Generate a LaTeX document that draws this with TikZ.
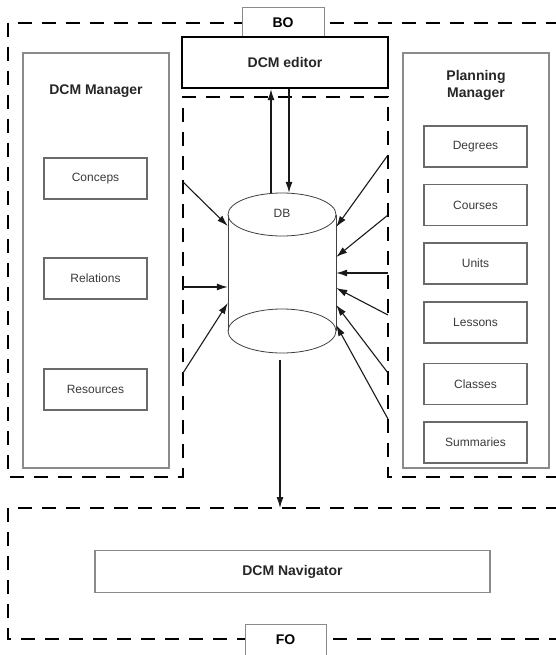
\documentclass[tikz,border=0pt]{standalone}
\usepackage{fontspec}
\setmainfont{Liberation Sans}
\usepackage{xcolor}
\usetikzlibrary{arrows.meta}
\definecolor{boxgray}{HTML}{8A8A8A}
\definecolor{subgray}{HTML}{6A6A6A}
\definecolor{txtgray}{HTML}{3A3A3A}
\tikzset{region/.style={draw=black, line width=2pt, dash pattern=on 14pt off 10pt},
 mgrbox/.style={draw=boxgray, line width=1.2pt, minimum width=146pt, minimum height=415pt, inner sep=0pt},
 subbox/.style={draw=subgray, line width=1.1pt, minimum width=103pt, minimum height=41pt, inner sep=0pt,
   text=txtgray, font=\fontsize{12}{14}\selectfont},
 title/.style={font=\bfseries\fontsize{14}{17}\selectfont, text=black!85, align=center},
 tabbox/.style={draw=boxgray, line width=1pt, fill=white, inner sep=0pt, font=\bfseries\fontsize{14}{17}\selectfont},
 arr/.style={draw=black!90, line width=1.1pt, -{Latex[length=11pt,width=7pt]}},
 }

\begin{document}
\begin{tikzpicture}[x=1pt, y=-1pt]
        \useasboundingbox (0,0) rectangle (556,655);

        % back office and front office
        \draw[region] (560,23) -- (8,23) -- (8,477) -- (183,477) -- (183,97)
            -- (388,97) -- (388,477) -- (560,477);
        \draw[region] (560,508) -- (8,508) -- (8,639) -- (560,639);
        \node[tabbox, minimum width=82pt, minimum height=29pt] (bo) at (283,22.5) {BO};
        \node[tabbox, minimum width=81pt, minimum height=32pt] (fo) at (285.5,640) {FO};

        \node[draw=black, line width=2.4pt, fill=white, minimum width=206pt, minimum height=51pt,
            title] (editor) at (285,62.5) {DCM editor};

        % left manager
        \node[mgrbox] (dcmmgr) at (96,260.5) {};
        \node[title] (dcmmgrt) at (96,91) {DCM Manager};
        \foreach \t/\y in {Conceps/178.5, Relations/278.5, Resources/389.5} {
            \node[subbox] (\t) at (95.5,\y) {\t};
        }

        % right manager
        \node[mgrbox] (planmgr) at (476,260.5) {};
        \node[title, inner sep=0pt] (planmgrt) at (476,85.5) {Planning\\Manager};
        \foreach \t/\y in {Degrees/146.5, Courses/205, Units/263.5, Lessons/322.5, Classes/384, Summaries/442.5} {
            \node[subbox] (\t) at (475.5,\y) {\t};
        }

        % database
        \node[minimum width=108pt, minimum height=160pt, inner sep=0pt] (db) at (282,273) {};
        \draw[draw=black!75, line width=0.8pt] (282,214.5) ellipse [x radius=54, y radius=21.5];
        \draw[draw=black!75, line width=0.8pt] (282,331) ellipse [x radius=54, y radius=22];
        \draw[draw=black!75, line width=0.8pt] (228,214.5) -- (228,331) (336,214.5) -- (336,331);
        \node[text=txtgray, font=\fontsize{12}{14}\selectfont] (dbt) at (282,213) {DB};

        \draw[arr] ([xshift=-11pt]db.north) -- ([xshift=-11pt]db.north |- editor.south);
        \draw[arr] ([xshift=7pt]db.north |- editor.south) -- ([xshift=7pt]db.north);

        \foreach \s/\e[count=\i] in {182/47, 287/-14, 373/-30} {
            \coordinate (l\i) at (183,\s);
            \draw[arr] (l\i) -- ([yshift=\e pt]db.west);
        }
        \foreach \s/\e[count=\i] in {155/46, 215/16, 273/0, 315/-15, 373/-32, 419/-52} {
            \coordinate (r\i) at (388,\s);
            \draw[arr] (r\i) -- ([yshift=\e pt]db.east);
        }

        \coordinate (fotop) at (280,508);
        \draw[arr] ([xshift=-2pt,yshift=-7pt]db.south) -- (fotop);

        \node[draw=boxgray, line width=1.1pt, minimum width=395pt, minimum height=42pt, title]
            (nav) at (292.5,571.5) {DCM Navigator};
    \end{tikzpicture}
\end{document}
